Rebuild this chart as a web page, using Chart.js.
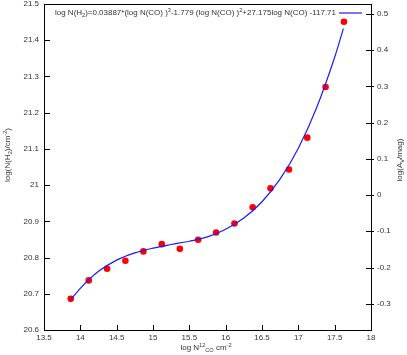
<!DOCTYPE html>
<html>
<head>
<meta charset="utf-8">
<script src="https://cdn.jsdelivr.net/npm/chart.js@4/dist/chart.umd.min.js"></script>
<style>
  html, body { margin: 0; padding: 0; background: #fff; }
  canvas { display: block; }
</style>
</head>
<body>
<canvas id="chart" width="407" height="355"></canvas>
<script>
// observed points: log N(CO) vs log N(H2)
const logNCO = [13.868, 14.116, 14.368, 14.62, 14.868, 15.121, 15.369, 15.621,
  15.869, 16.121, 16.372, 16.617, 16.871, 17.123, 17.375, 17.628];
const logNH2 = [20.686, 20.737, 20.769, 20.791, 20.817, 20.837, 20.824, 20.849,
  20.869, 20.894, 20.939, 20.991, 21.043, 21.131, 21.271, 21.451];

// fitted curve
const fitX = [13.87, 14.0, 14.25, 14.5, 14.75, 15.0, 15.25, 15.5, 15.75,
  16.0, 16.25, 16.5, 16.75, 17.0, 17.25, 17.5, 17.62];
const fitY = [20.684, 20.715, 20.762, 20.793, 20.813, 20.826, 20.836, 20.845, 20.857,
  20.878, 20.909, 20.954, 21.017, 21.102, 21.213, 21.353, 21.432];

// tick labels
const xTicks = [13.5, 14, 14.5, 15, 15.5, 16, 16.5, 17, 17.5, 18];
const yTicks = [20.6, 20.7, 20.8, 20.9, 21, 21.1, 21.2, 21.3, 21.4, 21.5];
const y2Ticks = [-0.3, -0.2, -0.1, 0, 0.1, 0.2, 0.3, 0.4, 0.5];

const FONT = "'Liberation Sans', Arial, sans-serif";
const TEXT = "#333";

function fmt(v) {
  return String(Math.round(v * 100) / 100);
}

// draw a run of [text, kind] pieces, kind: 0 normal, 1 superscript, -1 subscript
function pieceWidth(ctx, parts, size) {
  let w = 0;
  parts.forEach(([t, k]) => {
    ctx.font = (k ? size * 0.7 : size) + "px " + FONT;
    w += ctx.measureText(t).width;
  });
  return w;
}

function drawPieces(ctx, parts, x, y, size) {
  ctx.textAlign = "left";
  ctx.textBaseline = "middle";
  parts.forEach(([t, k]) => {
    ctx.font = (k ? size * 0.7 : size) + "px " + FONT;
    const dy = k === 1 ? -size * 0.35 : k === -1 ? size * 0.3 : 0;
    ctx.fillText(t, x, y + dy);
    x += ctx.measureText(t).width;
  });
}

const frame = {
  id: "frame",
  afterDatasetsDraw(chart) {
    const { ctx, chartArea: a, scales } = chart;
    ctx.save();
    ctx.strokeStyle = "#000";
    ctx.lineWidth = 1;
    ctx.strokeRect(Math.round(a.left) + 0.5, Math.round(a.top) + 0.5,
      Math.round(a.right - a.left), Math.round(a.bottom - a.top));

    // inward ticks
    ctx.beginPath();
    xTicks.forEach((v) => {
      const px = Math.round(scales.x.getPixelForValue(v)) + 0.5;
      ctx.moveTo(px, a.bottom);
      ctx.lineTo(px, a.bottom - 5);
    });
    yTicks.forEach((v) => {
      const py = Math.round(scales.y.getPixelForValue(v)) + 0.5;
      ctx.moveTo(a.left, py);
      ctx.lineTo(a.left + 6, py);
    });
    y2Ticks.forEach((v) => {
      const py = Math.round(scales.y2.getPixelForValue(v)) + 0.5;
      ctx.moveTo(a.right - 5, py);
      ctx.lineTo(a.right + 3, py);
    });
    ctx.stroke();

    ctx.fillStyle = TEXT;

    // legend
    const leg = [["log N(H", 0], ["2", -1], [")=0.03887*(log N(CO) )", 0], ["3", 1],
      ["-1.779 (log N(CO) )", 0], ["2", 1], ["+27.175log N(CO) -117.71", 0]];
    const lw = pieceWidth(ctx, leg, 8);
    const target = 281;
    ctx.save();
    ctx.translate(336 - target, 13);
    ctx.scale(target / lw, 1);
    drawPieces(ctx, leg, 0, 0, 8);
    ctx.restore();
    ctx.strokeStyle = "#1a1aff";
    ctx.lineWidth = 1.2;
    ctx.beginPath();
    ctx.moveTo(339, 13);
    ctx.lineTo(362, 13);
    ctx.stroke();

    // x title
    const xt = [["log N", 0], ["12", 1], ["CO", -1], [" cm", 0], ["-2", 1]];
    const xw = pieceWidth(ctx, xt, 8);
    drawPieces(ctx, xt, 206 - xw / 2, 348, 8);

    // left y title
    const yt = [["log(N(H", 0], ["2", -1], [")/cm", 0], ["-2", 1], [")", 0]];
    const yw = pieceWidth(ctx, yt, 8);
    ctx.save();
    ctx.translate(8, 155);
    ctx.rotate(-Math.PI / 2);
    drawPieces(ctx, yt, -yw / 2, 0, 8);
    ctx.restore();

    // right y title
    const rt = [["log(A", 0], ["V", -1], ["/mag)", 0]];
    const rw = pieceWidth(ctx, rt, 8);
    ctx.save();
    ctx.translate(400, 160);
    ctx.rotate(-Math.PI / 2);
    drawPieces(ctx, rt, -rw / 2, 0, 8);
    ctx.restore();

    ctx.restore();
  },
};

const tickFont = { family: FONT, size: 8 };

new Chart(document.getElementById("chart"), {
  type: "scatter",
  data: {
    datasets: [
      {
        label: "fit",
        data: fitX.map((x, i) => ({ x, y: fitY[i] })),
        showLine: true,
        borderColor: "#1a1aff",
        borderWidth: 1.2,
        pointRadius: 0,
        cubicInterpolationMode: "monotone",
        yAxisID: "y",
        order: 0,
      },
      {
        label: "data",
        data: logNCO.map((x, i) => ({ x, y: logNH2[i] })),
        backgroundColor: "#ff0000",
        borderWidth: 0,
        pointRadius: 3.3,
        yAxisID: "y",
        order: 1,
      },
    ],
  },
  options: {
    responsive: false,
    animation: false,
    layout: { padding: { top: 3, left: 0, right: 0, bottom: 0 } },
    plugins: { legend: { display: false }, tooltip: { enabled: false } },
    scales: {
      x: {
        type: "linear",
        min: 13.5,
        max: 18,
        grid: { display: false, drawTicks: false },
        border: { display: false },
        ticks: { font: tickFont, color: TEXT, padding: 3, maxRotation: 0, callback: fmt },
        afterBuildTicks: (s) => { s.ticks = xTicks.map((v) => ({ value: v })); },
        afterFit: (s) => { s.height = 25; s.paddingLeft = 0; s.paddingRight = 0; },
      },
      y: {
        position: "left",
        min: 20.6,
        max: 21.5,
        grid: { display: false, drawTicks: false },
        border: { display: false },
        ticks: { font: tickFont, color: TEXT, padding: 5, callback: fmt },
        afterBuildTicks: (s) => { s.ticks = yTicks.map((v) => ({ value: v })); },
        afterFit: (s) => { s.width = 44; s.paddingTop = 0; s.paddingBottom = 0; },
      },
      y2: {
        position: "right",
        min: -0.3725,
        max: 0.5275,
        grid: { display: false, drawTicks: false },
        border: { display: false },
        ticks: { font: tickFont, color: TEXT, padding: 6, callback: fmt },
        afterBuildTicks: (s) => { s.ticks = y2Ticks.map((v) => ({ value: v })); },
        afterFit: (s) => { s.width = 36; s.paddingTop = 0; s.paddingBottom = 0; },
      },
    },
  },
  plugins: [frame],
});
</script>
</body>
</html>
